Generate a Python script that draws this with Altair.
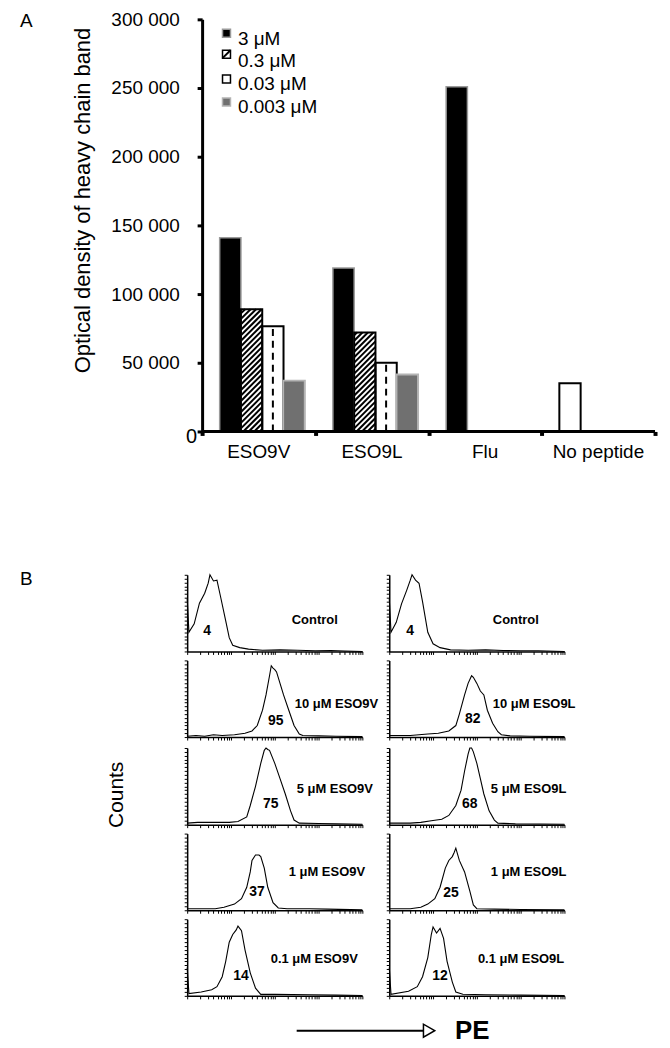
import altair as alt
import pandas as pd
import numpy as np

# ---------------- Panel A data ----------------
categories = ["ESO9V", "ESO9L", "Flu", "No peptide"]
conc_labels = ["3 \u03bcM", "0.3 \u03bcM", "0.03 \u03bcM", "0.003 \u03bcM"]
od_3uM = [141000, 119000, 251000, None]
od_0_3uM = [89000, 72000, None, None]
od_0_03uM = [76500, 50000, None, None]
od_0_003uM = [37000, 41500, None, None]
od_no_peptide = [None, None, None, 35000]
od_ticks = [0, 50000, 100000, 150000, 200000, 250000, 300000]

# ---------------- Panel B data (x: fraction of log axis, y: fraction of max count) ----
ctrl_v = [(0, 0.69), (0.01, 0.25), (0.04, 0.36), (0.07, 0.63), (0.10, 0.76), (0.12, 0.89), (0.13, 1.0),
          (0.15, 0.92), (0.17, 0.93), (0.19, 0.72), (0.22, 0.40), (0.24, 0.18), (0.26, 0.08), (0.30, 0.05),
          (0.35, 0.03), (0.43, 0.015), (0.53, 0.02), (0.63, 0.015), (0.73, 0.01), (0.82, 0.012), (0.90, 0.005), (1.0, 0.0)]
ctrl_l = [(0, 0.69), (0.01, 0.25), (0.04, 0.38), (0.07, 0.62), (0.10, 0.80), (0.12, 0.93), (0.13, 1.0),
          (0.15, 0.93), (0.17, 0.89), (0.19, 0.65), (0.22, 0.25), (0.25, 0.10), (0.29, 0.05), (0.35, 0.02),
          (0.45, 0.015), (0.55, 0.02), (0.65, 0.012), (0.75, 0.01), (0.85, 0.008), (1.0, 0.0)]
v10 = [(0, 0.01), (0.05, 0.02), (0.10, 0.01), (0.15, 0.03), (0.20, 0.02), (0.27, 0.03), (0.33, 0.05), (0.37, 0.08),
       (0.40, 0.15), (0.43, 0.35), (0.45, 0.55), (0.47, 0.80), (0.48, 0.93), (0.49, 0.90), (0.50, 0.88),
       (0.51, 0.85), (0.53, 0.70), (0.55, 0.55), (0.58, 0.35), (0.61, 0.15), (0.64, 0.04), (0.66, 0.02),
       (0.75, 0.015), (0.85, 0.01), (1.0, 0.005)]
l10 = [(0, 0.02), (0.05, 0.02), (0.12, 0.02), (0.22, 0.04), (0.28, 0.05), (0.34, 0.08), (0.38, 0.15), (0.40, 0.30),
       (0.43, 0.55), (0.45, 0.70), (0.47, 0.80), (0.48, 0.78), (0.50, 0.70), (0.52, 0.60), (0.54, 0.55),
       (0.56, 0.35), (0.59, 0.18), (0.62, 0.07), (0.64, 0.03), (0.69, 0.015), (0.80, 0.01), (1.0, 0.005)]
v5 = [(0, 0.02), (0.06, 0.03), (0.12, 0.03), (0.24, 0.03), (0.29, 0.04), (0.34, 0.10), (0.36, 0.25), (0.39, 0.50),
      (0.42, 0.80), (0.44, 0.97), (0.45, 1.0), (0.46, 0.98), (0.47, 0.97), (0.50, 0.80), (0.53, 0.60),
      (0.56, 0.40), (0.59, 0.18), (0.61, 0.06), (0.64, 0.02), (0.75, 0.015), (0.85, 0.01), (1.0, 0.005)]
l5 = [(0, 0.02), (0.12, 0.02), (0.18, 0.03), (0.24, 0.05), (0.30, 0.07), (0.34, 0.12), (0.38, 0.25), (0.41, 0.45),
      (0.43, 0.70), (0.45, 0.92), (0.46, 1.0), (0.47, 1.0), (0.48, 0.95), (0.50, 0.80), (0.52, 0.60),
      (0.54, 0.40), (0.57, 0.18), (0.60, 0.06), (0.62, 0.02), (0.72, 0.01), (1.0, 0.005)]
v1 = [(0, 0.02), (0.08, 0.02), (0.16, 0.02), (0.21, 0.04), (0.27, 0.08), (0.31, 0.15), (0.34, 0.30), (0.36, 0.50),
      (0.37, 0.65), (0.39, 0.72), (0.41, 0.72), (0.42, 0.70), (0.44, 0.55), (0.46, 0.30), (0.49, 0.10),
      (0.52, 0.03), (0.57, 0.02), (0.70, 0.02), (0.80, 0.015), (1.0, 0.005)]
l1 = [(0, 0.02), (0.12, 0.02), (0.18, 0.04), (0.22, 0.08), (0.26, 0.15), (0.29, 0.30), (0.32, 0.55), (0.34, 0.65),
      (0.36, 0.70), (0.37, 0.75), (0.38, 0.81), (0.40, 0.65), (0.43, 0.50), (0.46, 0.25), (0.48, 0.07),
      (0.50, 0.02), (0.60, 0.015), (0.75, 0.01), (1.0, 0.005)]
v01 = [(0, 0.37), (0.01, 0.03), (0.08, 0.05), (0.14, 0.08), (0.17, 0.12), (0.20, 0.25), (0.22, 0.45), (0.24, 0.70),
       (0.26, 0.80), (0.28, 0.86), (0.29, 0.91), (0.31, 0.85), (0.33, 0.60), (0.36, 0.30), (0.39, 0.10),
       (0.42, 0.02), (0.50, 0.02), (0.70, 0.015), (0.85, 0.01), (1.0, 0.005)]
l01 = [(0, 0.37), (0.01, 0.02), (0.11, 0.06), (0.16, 0.12), (0.19, 0.25), (0.22, 0.50), (0.24, 0.80), (0.25, 0.90),
       (0.27, 0.82), (0.29, 0.88), (0.31, 0.75), (0.33, 0.45), (0.36, 0.18), (0.38, 0.05), (0.42, 0.02),
       (0.55, 0.015), (0.75, 0.01), (1.0, 0.005)]

pct_v = ["4", "95", "75", "37", "14"]
pct_l = ["4", "82", "68", "25", "12"]
cond_v = ["Control", "10 \u03bcM ESO9V", "5 \u03bcM ESO9V", "1 \u03bcM ESO9V", "0.1 \u03bcM ESO9V"]
cond_l = ["Control", "10 \u03bcM ESO9L", "5 \u03bcM ESO9L", "1 \u03bcM ESO9L", "0.1 \u03bcM ESO9L"]
# annotation anchor positions (data units of each histogram)
pct_pos_v = [(0.114, 0.26), (0.506, 0.21), (0.477, 0.273), (0.398, 0.234), (0.307, 0.26)]
pct_pos_l = [(0.119, 0.26), (0.477, 0.234), (0.460, 0.273), (0.352, 0.22), (0.290, 0.26)]
cond_pos_v = [(0.597, 0.416), (0.614, 0.43), (0.625, 0.468), (0.580, 0.494), (0.477, 0.48)]
cond_pos_l = [(0.591, 0.416), (0.591, 0.43), (0.580, 0.468), (0.580, 0.494), (0.506, 0.48)]

FONT = "Liberation Sans"

# ---------------- Panel A ----------------
HA = 414
PX_PER_CAT = 113.75
SHIFT = 15  # panel A axis sits 15px right of panel B's axes
LEFT = SHIFT / PX_PER_CAT
WA = int(round(4 * PX_PER_CAT + SHIFT))
GROUP_PAD, BAR_W = 0.155, 0.188
style = {"solid": ("black", "#9a9a9a", 1.5), "hatch": ("white", "black", 2),
         "dash": ("white", "black", 2), "gray": ("#707070", "#b4b4b4", 2),
         "open": ("white", "black", 2)}
series = [("3uM", od_3uM, 0, "solid"), ("0.3uM", od_0_3uM, 1, "hatch"),
          ("0.03uM", od_0_03uM, 2, "dash"), ("0.003uM", od_0_003uM, 3, "gray"),
          ("none", od_no_peptide, 0, "open")]
rows = []
for name, vals, slot, kind in series:
    for ci, v in enumerate(vals):
        if v is None:
            continue
        x0 = ci + GROUP_PAD + slot * BAR_W
        rows.append(dict(series=name, kind=kind, cat=categories[ci], value=v, base=0,
                         x0=x0, x1=x0 + BAR_W, xc=x0 + BAR_W / 2,
                         fill=style[kind][0], stroke=style[kind][1], sw=style[kind][2]))
bars = pd.DataFrame(rows)

pxx, pxy = PX_PER_CAT, HA / 300000.0
hrows = []
for _, r in bars[bars.kind == "hatch"].iterrows():
    w, h = BAR_W * pxx, r.value * pxy
    c = -w + 2.5
    while c < h:
        xs, xe = max(0.0, -c), min(w, h - c)
        if xe > xs:
            hrows.append(dict(hx0=r.x0 + xs / pxx, hy0=(xs + c) / pxy,
                              hx1=r.x0 + xe / pxx, hy1=(xe + c) / pxy))
        c += 5.5
hatch_df = pd.DataFrame(hrows)

scaleXA = alt.Scale(domain=[-LEFT, 4], nice=False, zero=False)
axisXA = alt.Axis(values=[0, 1, 2, 3, 4], labels=False, title=None, tickSize=4, tickWidth=4,
                  domain=False, grid=False, tickColor="black")
scaleYA = alt.Scale(domain=[0, 300000], nice=False)
axisYA = alt.Axis(values=od_ticks, offset=-SHIFT,
                  labelExpr="datum.value == 0 ? '' : replace(format(datum.value, ','), ',', ' ')",
                  labelFontSize=19, labelFont=FONT, labelPadding=18, labelColor="black",
                  tickSize=5, tickWidth=3, domainWidth=3, title=None, grid=False,
                  domainColor="black", tickColor="black")


def XA(f):
    return alt.X(f, type="quantitative", scale=scaleXA, axis=axisXA)


def YA(f):
    return alt.Y(f, type="quantitative", scale=scaleYA, axis=axisYA)


one = pd.DataFrame({"v": [0]})

baseline_df = pd.DataFrame({"bx0": [0], "bx1": [len(categories)], "by": [0]})
baseline = alt.Chart(baseline_df).mark_rule(color="black", strokeWidth=3).encode(
    x=XA("bx0"), x2="bx1", y=YA("by"))
bar_fill = alt.Chart(bars).mark_rect().encode(
    x=XA("x0"), x2="x1", y=YA("value"), y2="base", fill=alt.Fill("fill:N", scale=None))
hatch = alt.Chart(hatch_df).mark_rule(color="black", strokeWidth=2).encode(
    x=XA("hx0"), x2="hx1", y=YA("hy0"), y2="hy1")
dash = alt.Chart(bars[bars.kind == "dash"]).mark_rule(color="black", strokeWidth=2, strokeDash=[7, 5]).encode(
    x=XA("xc"), y=YA("base"), y2="value")
outline = alt.Chart(bars).mark_rect(fillOpacity=0).encode(
    x=XA("x0"), x2="x1", y=YA("value"), y2="base",
    stroke=alt.Stroke("stroke:N", scale=None), strokeWidth=alt.StrokeWidth("sw:Q", scale=None))
cat_df = pd.DataFrame({"cat": categories, "cx": [i + 0.5 for i in range(len(categories))]})
cat_labels = alt.Chart(cat_df).mark_text(fontSize=19, font=FONT, color="black", baseline="middle").encode(
    x=XA("cx"), y=alt.value(435), text="cat:N")

legend_layers = []
sq_y = [14, 35, 60, 83]
tx_y = [20, 42, 65, 88]
leg_styles = [style["solid"], style["hatch"], style["open"], style["gray"]]
for i, lab in enumerate(conc_labels):
    f, s, sw = leg_styles[i]
    legend_layers.append(alt.Chart(one).mark_square(size=64, fill=f, stroke=s, strokeWidth=1.5, opacity=1).encode(
        x=alt.value(SHIFT + 24.5), y=alt.value(sq_y[i])))
    if i == 1:
        legend_layers.append(alt.Chart(one).mark_rule(color="black", strokeWidth=2).encode(
            x=alt.value(SHIFT + 20.5), x2=alt.value(SHIFT + 28.5),
            y=alt.value(sq_y[i] + 4), y2=alt.value(sq_y[i] - 4)))
    legend_layers.append(alt.Chart(one).mark_text(text=lab, fontSize=19, font=FONT, color="black",
                                                  align="left", baseline="middle").encode(
        x=alt.value(SHIFT + 36), y=alt.value(tx_y[i])))

a_label = alt.Chart(one).mark_text(text="A", fontSize=19, font=FONT, color="black", align="left",
                                   baseline="middle").encode(x=alt.value(-168), y=alt.value(2))
y_title = alt.Chart(one).mark_text(text="Optical density of heavy chain band", fontSize=22, font=FONT,
                                   color="black", angle=270, align="center", baseline="middle").encode(
    x=alt.value(SHIFT - 120), y=alt.value(182))
zero_lab = alt.Chart(one).mark_text(text="0", fontSize=20, font=FONT, color="black", align="right",
                                    baseline="middle").encode(x=alt.value(SHIFT - 5), y=alt.value(420))

panelA = alt.layer(bar_fill, hatch, dash, outline, baseline, cat_labels, *legend_layers, a_label, y_title,
                   zero_lab).properties(width=WA, height=HA)

# ---------------- Panel B ----------------
WB, HB = 176, 77
xticksB = sorted(set([round((d + np.log10(k)) / 4.0, 5) for d in range(4) for k in range(1, 10)] + [1.0]))
yticksB = [i / 20.0 for i in range(21)]
scaleXB = alt.Scale(domain=[0, 1], nice=False, zero=False)
scaleYB = alt.Scale(domain=[0, 1], nice=False, zero=False)
axisXB = alt.Axis(values=xticksB, labels=False, title=None, tickSize=3, tickWidth=1, domainWidth=1.5,
                  grid=False, domainColor="black", tickColor="black")
axisYB = alt.Axis(values=yticksB, labels=False, title=None, tickSize=3, tickWidth=1, domainWidth=1.5,
                  grid=False, domainColor="black", tickColor="black")


def XB(f):
    return alt.X(f, type="quantitative", scale=scaleXB, axis=axisXB)


def YB(f):
    return alt.Y(f, type="quantitative", scale=scaleYB, axis=axisYB)


def ghost(x, y, align="left"):
    # invisible text used only to give every cell identical layout extents
    return alt.Chart(one).mark_text(text="B", fontSize=19, font=FONT, opacity=0, align=align,
                                    baseline="middle").encode(x=alt.value(x), y=alt.value(y))


def hist(curve, pct, ppos, cond, cpos, extras=()):
    df = pd.DataFrame(curve, columns=["x", "y"])
    df["i"] = range(len(df))
    line = alt.Chart(df).mark_line(color="black", strokeWidth=1.1).encode(
        x=XB("x"), y=YB("y"), order="i:Q")
    pdf = pd.DataFrame({"t": [pct], "x": [ppos[0]], "y": [ppos[1]]})
    cdf = pd.DataFrame({"t": [cond], "x": [cpos[0]], "y": [cpos[1]]})
    ptxt = alt.Chart(pdf).mark_text(fontSize=14, fontWeight="bold", font=FONT, color="black",
                                    align="center", baseline="middle").encode(x=XB("x"), y=YB("y"), text="t:N")
    ctxt = alt.Chart(cdf).mark_text(fontSize=13, fontWeight="bold", font=FONT, color="black",
                                    align="left", baseline="middle").encode(x=XB("x"), y=YB("y"), text="t:N")
    return alt.layer(line, ptxt, ctxt, *extras).properties(width=WB, height=HB)


b_label = alt.Chart(one).mark_text(text="B", fontSize=19, font=FONT, color="black", align="left",
                                   baseline="middle").encode(x=alt.value(-168), y=alt.value(4))
counts = alt.Chart(one).mark_text(text="Counts", fontSize=21, font=FONT, color="black", angle=270,
                                  align="center", baseline="middle").encode(x=alt.value(-70), y=alt.value(47))
right_marker = alt.Chart(one).mark_rule(opacity=0, strokeWidth=1).encode(
    x=alt.value(196), y=alt.value(30), y2=alt.value(40))

# PE arrow below the histogram grid (its own small view)
arrow_line = alt.Chart(one).mark_rule(color="black", strokeWidth=2).encode(
    x=alt.value(110), x2=alt.value(238), y=alt.value(0))
arrow_head = alt.Chart(one).mark_point(shape="triangle-right", size=170, filled=True, fill="white",
                                       stroke="black", strokeWidth=1.5, opacity=1).encode(
    x=alt.value(243), y=alt.value(0))
pe = alt.Chart(one).mark_text(text="PE", fontSize=26, fontWeight="bold", font=FONT, color="black",
                              align="left", baseline="middle").encode(x=alt.value(269), y=alt.value(0))
arrow_view = alt.layer(ghost(-168, 0), arrow_line, arrow_head, pe).properties(width=1, height=1)

curves_v = [ctrl_v, v10, v5, v1, v01]
curves_l = [ctrl_l, l10, l5, l1, l01]
extras_left = [[b_label], [ghost(-168, 40)], [ghost(-168, 40), counts], [ghost(-168, 40)],
               [ghost(-168, 40)]]

left_cells, right_cells = [], []
for r in range(5):
    left_cells.append(hist(curves_v[r], pct_v[r], pct_pos_v[r], cond_v[r], cond_pos_v[r],
                           extras_left[r] + [right_marker]))
    right_cells.append(hist(curves_l[r], pct_l[r], pct_pos_l[r], cond_l[r], cond_pos_l[r],
                            [ghost(2, 4)] if r == 0 else []))

left_col = alt.vconcat(*left_cells, spacing=4)
right_col = alt.vconcat(*right_cells, spacing=4)
grid = alt.hconcat(left_col, right_col, spacing=3)
panelB = alt.vconcat(grid, arrow_view, spacing=18)

chart = alt.vconcat(panelA, panelB, spacing=108).properties(
    padding={"left": 12, "top": 0, "right": 5, "bottom": 5}
).configure(font=FONT).configure_view(stroke=None)

chart.save("out.html", embed_options={"renderer": "svg", "actions": False})
